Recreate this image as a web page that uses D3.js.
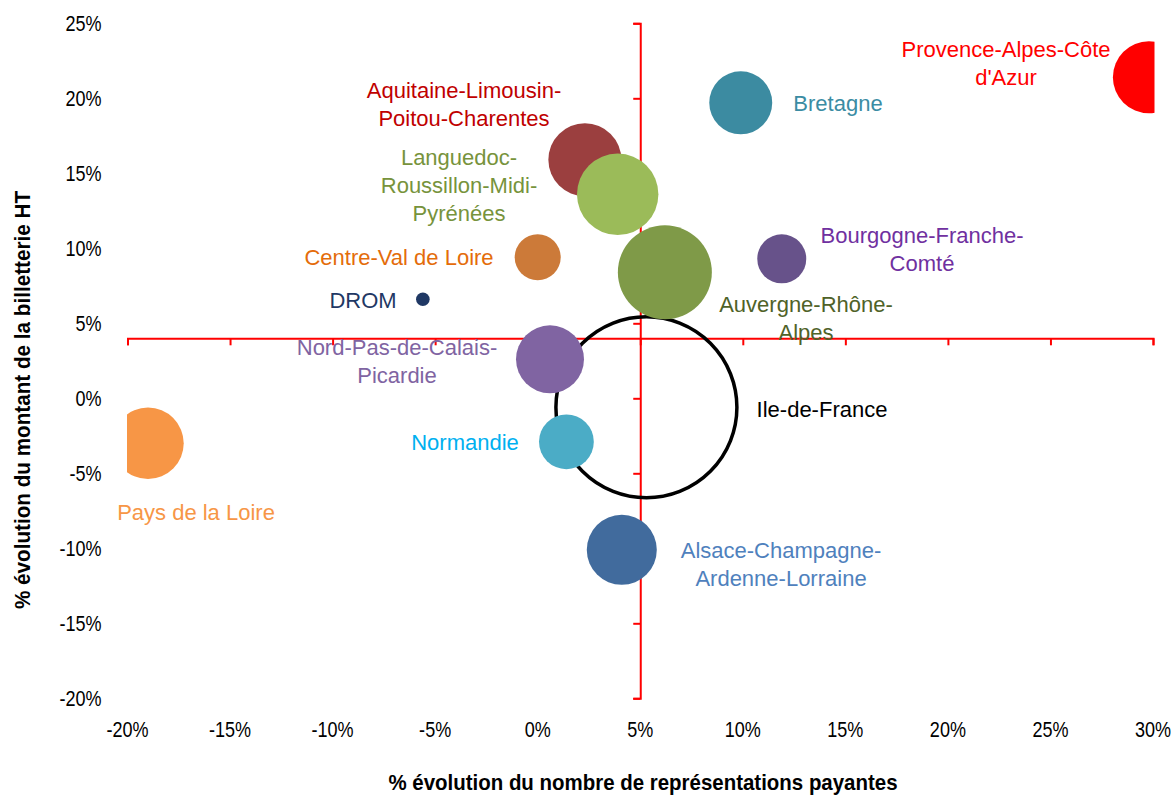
<!DOCTYPE html>
<html>
<head>
<meta charset="utf-8">
<script src="https://cdn.jsdelivr.net/npm/d3@7"></script>
<style>
  html, body { margin: 0; padding: 0; background: #fff; }
  svg { display: block; }
</style>
</head>
<body>
<div id="chart"></div>
<script>
// data (% évolution)
const regions = ["Ile-de-France", "Provence-Alpes-Côte d'Azur", "Bretagne", "Aquitaine-Limousin-Poitou-Charentes",
  "Languedoc-Roussillon-Midi-Pyrénées", "Centre-Val de Loire", "Auvergne-Rhône-Alpes", "Bourgogne-Franche-Comté",
  "DROM", "Nord-Pas-de-Calais-Picardie", "Normandie", "Pays de la Loire", "Alsace-Champagne-Ardenne-Lorraine"];
const representations = [5.3, 29.8, 9.9, 2.3, 3.9, 0.0, 6.2, 11.9, -5.6, 0.6, 1.4, -19.0, 4.1];
const billetterie = [-0.6, 21.4, 19.7, 15.9, 13.6, 9.4, 8.4, 9.3, 6.6, 2.6, -2.9, -3.0, -10.1];
const montant = [300, 47.5, 36.3, 48.8, 60.7, 19.4, 80.9, 22.0, 1.7, 42.3, 27.5, 46.7, 44.9];

const xTicks = [-20, -15, -10, -5, 0, 5, 10, 15, 20, 25, 30];
const yTicks = [-20, -15, -10, -5, 0, 5, 10, 15, 20, 25];
const xCross = 5;   // vertical axis crosses at 5%
const yCross = 4;   // horizontal axis crosses at 4%

// styles: [bubble fill, label colour]
const colors = {
  "Ile-de-France": ["none", "#000000"],
  "Provence-Alpes-Côte d'Azur": ["#FF0000", "#FF0000"],
  "Bretagne": ["#3C8BA1", "#3B8CA3"],
  "Aquitaine-Limousin-Poitou-Charentes": ["#9B3F3F", "#C00000"],
  "Languedoc-Roussillon-Midi-Pyrénées": ["#9BBB59", "#77933C"],
  "Centre-Val de Loire": ["#CC7A39", "#E46C0A"],
  "Auvergne-Rhône-Alpes": ["#7F9A48", "#4F6228"],
  "Bourgogne-Franche-Comté": ["#67528A", "#7030A0"],
  "DROM": ["#1F3864", "#1F3864"],
  "Nord-Pas-de-Calais-Picardie": ["#8064A2", "#8064A2"],
  "Normandie": ["#4BACC6", "#00B0F0"],
  "Pays de la Loire": ["#F79646", "#F79646"],
  "Alsace-Champagne-Ardenne-Lorraine": ["#416B9D", "#4F81BD"]
};

// label placement: lines, centre x, first line centre y (pixels)
const labelLayout = {
  "Ile-de-France": [["Ile-de-France"], 822, 409],
  "Provence-Alpes-Côte d'Azur": [["Provence-Alpes-Côte", "d'Azur"], 1006, 49],
  "Bretagne": [["Bretagne"], 838, 103],
  "Aquitaine-Limousin-Poitou-Charentes": [["Aquitaine-Limousin-", "Poitou-Charentes"], 464, 90],
  "Languedoc-Roussillon-Midi-Pyrénées": [["Languedoc-", "Roussillon-Midi-", "Pyrénées"], 459, 157],
  "Centre-Val de Loire": [["Centre-Val de Loire"], 399, 257],
  "Auvergne-Rhône-Alpes": [["Auvergne-Rhône-", "Alpes"], 806, 304],
  "Bourgogne-Franche-Comté": [["Bourgogne-Franche-", "Comté"], 922, 235],
  "DROM": [["DROM"], 363, 300],
  "Nord-Pas-de-Calais-Picardie": [["Nord-Pas-de-Calais-", "Picardie"], 397, 347],
  "Normandie": [["Normandie"], 465, 442],
  "Pays de la Loire": [["Pays de la Loire"], 196, 512],
  "Alsace-Champagne-Ardenne-Lorraine": [["Alsace-Champagne-", "Ardenne-Lorraine"], 781, 550]
};

const width = 1175, height = 796;
const plot = {left: 127.5, right: 1153, top: 23.3, bottom: 698.3};
const font = "'Liberation Sans', Arial, sans-serif";
const axisRed = "#FF0000";

const svg = d3.select("#chart").append("svg")
  .attr("width", width)
  .attr("height", height);

const x = d3.scaleLinear().domain([-20, 30]).range([plot.left, plot.right]);
const y = d3.scaleLinear().domain([-20, 25]).range([plot.bottom, plot.top]);
const r = d3.scaleSqrt().domain([0, d3.max(montant)]).range([0, 90.5]);

// text helper; sx squeezes glyphs to mimic a narrow face
const addText = (g, str, tx, ty, opts) => {
  const o = Object.assign({size: 22, sx: 1, anchor: "middle", color: "#000", weight: "normal", rotate: 0}, opts);
  return g.append("text")
    .attr("transform", `translate(${tx},${ty}) rotate(${o.rotate}) scale(${o.sx},1)`)
    .attr("text-anchor", o.anchor)
    .style("font-family", font)
    .style("font-size", `${o.size}px`)
    .style("font-weight", o.weight)
    .style("fill", o.color)
    .text(str);
};

// axes crossing inside the plot
const xAxis = d3.axisBottom(x).tickValues(xTicks).tickSize(7).tickSizeOuter(7).tickFormat("");
const yAxis = d3.axisLeft(y).tickValues(yTicks).tickSize(7).tickSizeOuter(7).tickFormat("");

const gx = svg.append("g")
  .attr("transform", `translate(0,${y(yCross)})`)
  .call(xAxis);
const gy = svg.append("g")
  .attr("transform", `translate(${x(xCross)},0)`)
  .call(yAxis);
[gx, gy].forEach(g => {
  g.select(".domain").attr("stroke", axisRed).attr("stroke-width", 2);
  g.selectAll(".tick line").attr("stroke", axisRed).attr("stroke-width", 2);
});

// tick labels sit at the low end, outside the plot
const labels = svg.append("g");
xTicks.forEach(v => addText(labels, `${v}%`, x(v), 737, {sx: 0.82}));
yTicks.forEach(v => addText(labels, `${v}%`, 101.5, y(v) + 8, {sx: 0.82, anchor: "end"}));

// axis titles
addText(labels, "% évolution du nombre de représentations payantes", 643, 790,
  {weight: "bold", sx: 0.93});
addText(labels, "% évolution du montant de la billetterie HT", 30, 400,
  {weight: "bold", sx: 0.94, rotate: -90});

// bubbles, clipped to the plot area
svg.append("defs").append("clipPath")
  .attr("id", "plotClip")
  .append("rect")
  .attr("x", plot.left - 0.5)
  .attr("y", 0)
  .attr("width", plot.right - plot.left + 2)
  .attr("height", height);

const idx = d3.range(regions.length);
svg.append("g")
  .attr("clip-path", "url(#plotClip)")
  .selectAll("circle")
  .data(idx)
  .join("circle")
  .attr("cx", i => x(representations[i]))
  .attr("cy", i => y(billetterie[i]))
  .attr("r", i => r(montant[i]))
  .attr("fill", i => colors[regions[i]][0])
  .attr("stroke", i => colors[regions[i]][0] === "none" ? "#000" : null)
  .attr("stroke-width", i => colors[regions[i]][0] === "none" ? 3.5 : null);

// data labels
const lg = svg.append("g");
regions.forEach(name => {
  const [lines, lx, ly] = labelLayout[name];
  lines.forEach((line, k) => {
    addText(lg, line, lx, ly + k * 28 + 8, {color: colors[name][1]});
  });
});
</script>
</body>
</html>
